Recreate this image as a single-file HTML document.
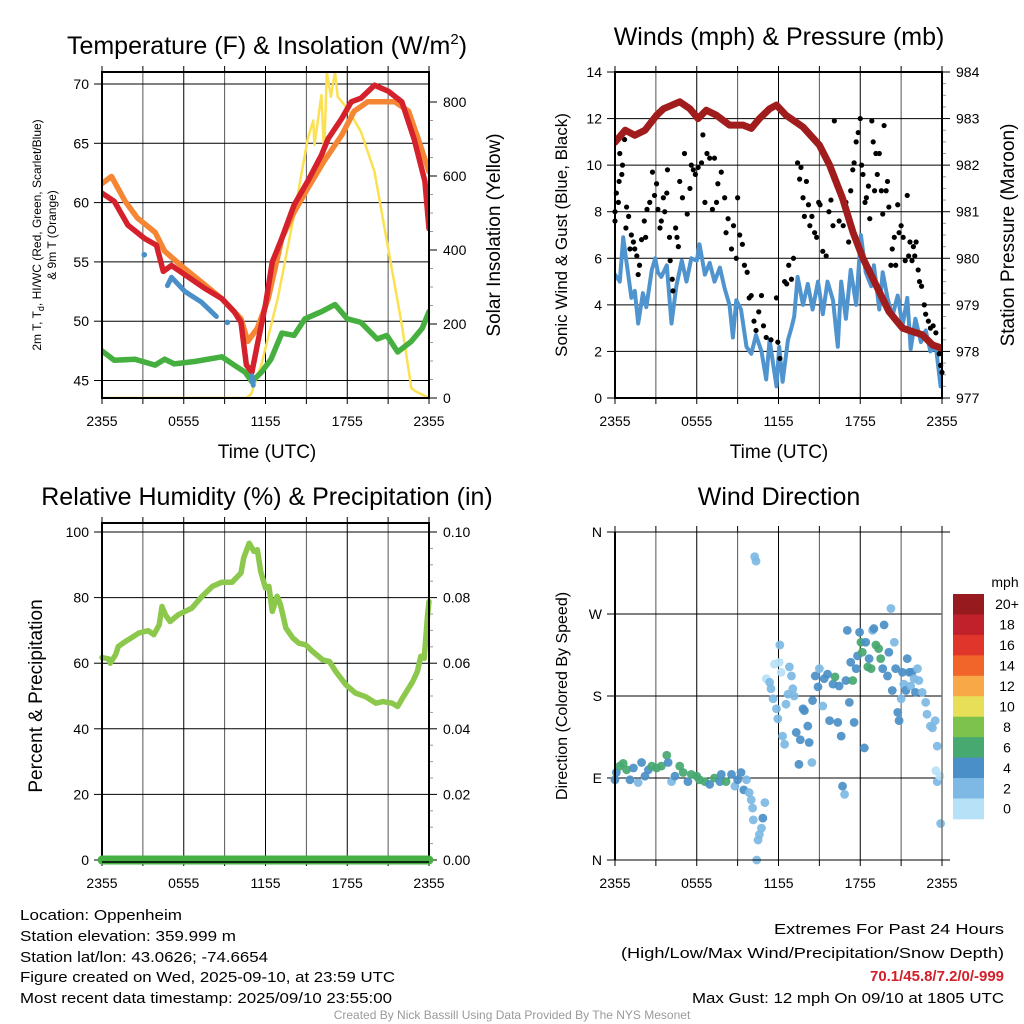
<!DOCTYPE html>
<html><head><meta charset="utf-8">
<style>
html,body{margin:0;padding:0;background:#fff;}
svg{display:block;font-family:"Liberation Sans",Arial,sans-serif;}
</style></head>
<body>
<svg id="chart" width="1024" height="1024" viewBox="0 0 1024 1024" xmlns="http://www.w3.org/2000/svg">
<defs>
<clipPath id="c1"><rect x="102" y="72" width="327" height="326"/></clipPath>
<clipPath id="c2"><rect x="615" y="72" width="327" height="326"/></clipPath>
<clipPath id="c4"><rect x="610" y="528" width="340" height="337"/></clipPath>
</defs>
<g id="p1"></g>
<g id="p2"></g>
<g id="p3"></g>
<g id="p4"></g>

<text x="267" y="54" font-size="25" text-anchor="middle">Temperature (F) &amp; Insolation (W/m<tspan dy="-10" font-size="15">2</tspan><tspan dy="10">)</tspan></text>
<text x="779" y="45" font-size="25" text-anchor="middle">Winds (mph) &amp; Pressure (mb)</text>
<text x="267" y="505" font-size="25" text-anchor="middle">Relative Humidity (%) &amp; Precipitation (in)</text>
<text x="779" y="505" font-size="25" text-anchor="middle">Wind Direction</text>

<text x="267" y="458" font-size="19" text-anchor="middle">Time (UTC)</text>
<text x="779" y="458" font-size="19" text-anchor="middle">Time (UTC)</text>

<text transform="translate(41,235) rotate(-90)" font-size="12" text-anchor="middle">2m T, T<tspan font-size="9" dy="3">d</tspan><tspan dy="-3">, HI/WC (Red, Green, Scarlet/Blue)</tspan></text>
<text transform="translate(56,235) rotate(-90)" font-size="12" text-anchor="middle">&amp; 9m T (Orange)</text>
<text transform="translate(500,235) rotate(-90)" font-size="19" text-anchor="middle">Solar Insolation (Yellow)</text>
<text transform="translate(567,235) rotate(-90)" font-size="17" text-anchor="middle">Sonic Wind &amp; Gust (Blue, Black)</text>
<text transform="translate(1014,235) rotate(-90)" font-size="19" text-anchor="middle">Station Pressure (Maroon)</text>
<text transform="translate(42,696) rotate(-90)" font-size="19" text-anchor="middle">Percent &amp; Precipitation</text>
<text transform="translate(567,696) rotate(-90)" font-size="16" text-anchor="middle">Direction (Colored By Speed)</text>

<g id="legend"></g>
<text x="1005" y="587" font-size="14" text-anchor="middle">mph</text>

<g font-size="15">
<text x="20" y="920" textLength="162" lengthAdjust="spacingAndGlyphs">Location: Oppenheim</text>
<text x="20" y="941" textLength="216" lengthAdjust="spacingAndGlyphs">Station elevation: 359.999 m</text>
<text x="20" y="962" textLength="248" lengthAdjust="spacingAndGlyphs">Station lat/lon: 43.0626; -74.6654</text>
<text x="20" y="982" textLength="375" lengthAdjust="spacingAndGlyphs">Figure created on Wed, 2025-09-10, at 23:59 UTC</text>
<text x="20" y="1003" textLength="372" lengthAdjust="spacingAndGlyphs">Most recent data timestamp: 2025/09/10 23:55:00</text>
</g>
<g font-size="15" text-anchor="end">
<text x="1004" y="934" textLength="230" lengthAdjust="spacingAndGlyphs">Extremes For Past 24 Hours</text>
<text x="1004" y="958" textLength="383" lengthAdjust="spacingAndGlyphs">(High/Low/Max Wind/Precipitation/Snow Depth)</text>
<text x="1004" y="981" fill="#d2202a" font-weight="bold" textLength="134" lengthAdjust="spacingAndGlyphs">70.1/45.8/7.2/0/-999</text>
<text x="1004" y="1003" textLength="312" lengthAdjust="spacingAndGlyphs">Max Gust: 12 mph On 09/10 at 1805 UTC</text>
</g>
<text x="512" y="1019" font-size="12" fill="#9a9a9a" text-anchor="middle">Created By Nick Bassill Using Data Provided By The NYS Mesonet</text>
</svg>
<script>
// ---------- data ----------
const xTickLabels = ["2355","0555","1155","1755","2355"];
const tempTicks = [45,50,55,60,65,70];
const insolTicks = [0,200,400,600,800];
const windTicks = [0,2,4,6,8,10,12,14];
const presTicks = [977,978,979,980,981,982,983,984];
const rhTicks = [0,20,40,60,80,100];
const precipTicks = ["0.00","0.02","0.04","0.06","0.08","0.10"];
const dirTicks = ["N","E","S","W","N"];
const speedLabels = ["0","2","4","6","8","10","12","14","16","18","20+"];
const speedColors = ["#b6e1f7","#7db9e4","#4a8fc7","#47a870","#7cc24d","#e8df58","#f8a846","#f1652b","#e0352b","#c0212a","#971a1e"];

const redH = [0,0.9,1.9,3.1,4,4.5,5.1,6.1,7.5,8.8,9.7,10.2,10.6,11,11.4,12,12.5,13.2,14.1,15.1,16.1,16.6,17.6,18.3,19,20,21,22,22.9,23.7,24];
const redT = [60.8,60.1,58.1,57.0,56.4,54.2,54.7,53.9,52.8,51.9,50.8,49.9,46.3,45.7,48.0,51.4,55.0,57.0,59.8,61.8,64.0,65.4,67.1,68.5,68.8,69.9,69.4,68.5,65.4,61.8,57.8];
const orH = [0,0.7,1.7,2.6,3.9,4.6,5.8,7.3,8.8,10.2,10.7,11.4,12.2,13.2,14.1,15.1,16.3,17.6,18.5,19.5,20.5,21.5,22.5,23.2,24];
const orT = [61.6,62.2,60.1,58.7,57.5,55.9,54.7,53.3,51.9,50.2,48.3,49.4,51.9,57.0,59.2,61.2,63.5,65.7,67.7,68.5,68.5,68.5,67.7,65.4,62.6];
const hiH = [3.1,null,4.8,5.1,6.1,7.3,8.4,null,9.2,null,11,11.1];
const hiT = [55.6,null,53.0,53.7,52.5,51.6,50.4,null,49.9,null,45.4,44.6];
const dpH = [0,0.9,2.4,3.9,4.6,5.3,6.8,8.8,9.7,10.5,11,11.7,12.4,13.2,14.1,14.9,16.1,17.1,18,19,20.2,20.9,21.7,22.7,23.5,24];
const dpT = [47.5,46.7,46.8,46.3,46.8,46.4,46.6,47.0,46.3,45.7,44.9,45.7,46.8,49.0,48.8,50.2,50.8,51.4,50.2,49.9,48.5,48.8,47.4,48.3,49.4,50.8];
const solH = [0,10.6,10.95,11.7,12.9,14.1,15.1,15.5,15.6,16.1,16.3,16.5,16.8,17.1,17.3,18,19,20,21,22,22.7,23,24];
const solW = [0,0,11,90,270,495,700,750,684,819,657,882,814,882,814,783,720,612,405,198,27,18,0];

const windH = [0,0.35,0.6,0.85,1.2,1.45,1.7,2.05,2.3,2.7,2.95,3.15,3.4,3.8,4.15,4.5,4.9,5.25,5.6,6.0,6.2,6.6,6.95,7.3,7.7,8.05,8.4,8.65,8.9,9.25,9.65,10.0,10.35,10.75,11.1,11.35,11.6,11.85,12.05,12.3,12.7,12.95,13.15,13.4,13.8,14.15,14.5,14.9,15.25,15.6,16.0,16.35,16.6,16.95,17.3,17.7,18.05,18.4,18.8,19.0,19.4,19.65,20.0,20.35,20.75,21.1,21.45,21.7,22.05,22.45,22.8,23.15,23.55,23.9];
const windV = [5.3,5.0,6.9,5.8,4.3,4.6,3.2,4.5,3.9,5.5,6.0,5.4,5.2,5.7,3.2,4.8,5.9,5.0,6.0,5.9,6.6,5.3,5.8,5.0,5.6,4.7,4.0,2.6,4.2,3.8,2.2,1.9,2.7,2.0,0.8,2.5,1.5,0.5,2.2,0.7,2.5,3.0,3.5,5.2,4.0,4.9,3.8,5.0,3.6,5.0,4.2,2.2,5.0,3.4,5.5,4.0,7.0,5.4,4.8,5.7,3.8,5.4,4.3,3.5,4.4,3.1,4.3,2.1,3.4,2.4,2.9,2.0,2.2,0.5];
const gustH = [0,0,0.1,0.25,0.3,0.35,0.5,0.55,0.7,0.8,0.85,1.0,1.1,1.2,1.35,1.45,1.6,1.7,1.8,1.95,2.15,2.25,2.35,2.55,2.75,2.9,3.05,3.15,3.3,3.4,3.55,3.65,3.8,3.85,4.0,4.05,4.2,4.25,4.45,4.55,4.65,4.75,4.95,5.1,5.3,5.5,5.6,5.75,5.9,6.1,6.35,6.45,6.6,6.75,6.95,7.15,7.3,7.45,7.55,7.8,8.05,8.15,8.3,8.55,8.7,8.9,9.0,9.15,9.35,9.5,9.7,9.85,10.0,10.2,10.35,10.55,10.75,10.9,11.1,11.45,11.85,11.95,12.1,12.45,12.6,12.75,12.95,13.1,13.4,13.55,13.65,13.8,13.9,14.05,14.2,14.3,14.45,14.65,14.8,14.95,15.05,15.25,15.5,15.7,15.85,16.0,16.1,16.25,16.45,16.6,16.75,16.95,17.15,17.3,17.45,17.55,17.7,17.85,18.0,18.1,18.2,18.35,18.45,18.6,18.7,18.85,18.95,19.05,19.15,19.25,19.4,19.55,19.65,19.75,19.9,20.0,20.1,20.25,20.35,20.5,20.6,20.75,20.85,21.0,21.15,21.3,21.45,21.55,21.65,21.8,21.9,22.0,22.1,22.25,22.35,22.5,22.7,22.8,23.0,23.15,23.35,23.55,23.8,23.9,24.0];
const gustV = [8.0,7.6,8.8,8.4,9.3,10.5,9.6,10.0,11.1,7.3,8.2,7.8,6.4,7.0,6.7,6.4,6.1,5.3,5.7,6.8,7.6,6.9,8.1,8.4,9.7,8.7,9.2,8.1,7.3,7.6,8.6,8.0,8.8,9.8,6.9,5.9,5.1,4.6,7.3,6.9,6.5,9.3,8.6,10.5,7.9,9.0,10.0,9.8,9.6,9.9,10.1,11.3,8.4,10.5,10.3,8.1,10.3,8.4,9.2,9.7,8.6,7.1,7.7,6.4,7.4,6.0,8.6,7.0,6.6,5.7,5.4,4.3,4.4,3.3,2.9,3.7,4.4,3.1,2.6,2.5,4.3,2.4,1.7,5.0,4.9,5.7,5.1,6.0,10.1,9.4,9.9,8.6,7.8,9.3,8.3,7.4,7.8,7.1,6.9,8.4,8.3,6.3,6.1,8.0,8.5,7.4,11.9,9.3,7.6,8.7,7.4,8.4,6.7,8.9,9.8,10.1,11.0,11.4,12.0,10.0,9.6,8.4,8.6,9.1,7.7,11.9,11.0,8.9,10.5,9.6,10.5,8.9,7.9,11.7,8.9,9.3,8.2,5.7,6.4,6.9,5.7,8.3,7.1,7.4,6.9,5.9,8.7,6.1,6.7,5.9,6.5,6.1,6.7,5.5,5.0,4.8,4.0,3.6,3.3,3.0,3.1,2.8,1.9,1.4,1.1];
const presH = [0,0.75,1.45,2.2,3.05,3.55,4.75,5.5,6.1,6.7,7.45,8.4,9.4,10.0,10.6,11.35,11.85,12.55,13.8,15.0,15.75,16.7,17.45,18.2,19.15,20.1,21.1,21.8,22.55,23.3,24];
const presV = [982.49,982.75,982.64,982.75,983.07,983.21,983.36,983.21,983.0,983.18,983.07,982.86,982.86,982.79,983.0,983.21,983.29,983.07,982.82,982.43,982.0,981.29,980.57,980.0,979.43,978.86,978.5,978.43,978.36,978.14,978.07];

const rhH = [0,0.5,0.6,1.0,1.2,1.7,2.1,2.7,3.4,3.8,4.2,4.4,4.65,5.0,5.6,6.6,7.35,8.1,8.8,9.55,10.2,10.4,10.8,11.15,11.4,11.65,12.0,12.25,12.5,12.85,13.1,13.5,14.0,14.45,14.95,15.45,16.2,16.7,17.15,17.9,18.6,19.35,20.1,20.6,21.3,21.7,22.05,22.8,23.15,23.4,23.65,23.9,24];
const rhV = [61.7,61.3,60.0,62.6,65.1,66.6,67.6,69.2,69.9,68.7,71.7,77.3,74.8,72.7,74.8,76.8,80.4,83.4,84.7,84.7,87.5,92.1,96.6,94.1,94.6,88.0,82.9,83.4,75.8,80.4,77.8,70.7,67.7,66.1,65.6,63.6,61.0,60.5,57.5,53.4,50.9,49.8,47.8,48.3,47.8,46.8,49.3,54.4,57.5,62.1,61.5,74.8,78.8];
const precipH = [0,24];
const precipV = [0,0];

const dirH = [0,0.1,0.35,0.6,0.85,1.1,1.35,1.7,1.95,2.2,2.45,2.7,3.05,3.4,3.8,3.9,4.15,4.4,4.75,5.0,5.35,5.6,6.0,6.2,6.6,6.95,7.3,7.7,7.8,8.15,8.55,8.8,9.0,9.25,9.45,9.65,9.85,10.0,10.1,10.15,10.5,10.6,10.75,10.85,11.0,10.4,10.25,10.35,11.1,11.35,11.45,11.6,11.7,11.85,11.95,12.05,12.1,12.2,12.3,12.45,12.55,12.7,12.8,12.95,13.05,13.15,13.3,13.5,13.6,13.8,13.9,14.15,14.25,14.45,14.5,14.7,14.9,15.0,15.25,15.35,15.6,15.75,16.0,16.15,16.35,16.45,16.6,16.7,16.85,16.95,17.05,17.2,17.3,17.45,17.55,17.7,17.8,17.95,18.05,18.15,18.3,18.4,18.55,18.65,18.8,18.9,19.0,19.15,19.35,19.5,19.65,19.75,20.0,20.1,20.25,20.35,20.5,20.6,20.75,20.85,21.0,21.1,21.2,21.35,21.45,21.6,21.7,21.8,21.95,22.05,22.2,22.3,22.55,22.8,22.9,23.15,23.3,23.5,23.55,23.65,23.65,23.85,23.9];
const dirV = [88,96,103,106,99,88,101,85,107,92,99,103,101,103,115,107,86,92,103,96,86,94,92,88,86,83,90,86,94,86,94,81,88,96,77,88,74,66,57,44,22,28,35,46,63,0,333,328,199,195,188,177,215,166,155,217,236,206,136,127,171,182,212,202,188,180,140,105,132,166,164,147,129,107,175,202,190,210,169,199,204,153,193,201,151,191,136,81,72,197,252,173,217,197,151,210,224,250,239,228,123,239,212,221,210,252,254,236,232,221,210,258,202,228,276,186,239,210,162,153,177,206,193,186,221,206,191,206,199,184,210,197,184,173,160,147,145,153,98,125,86,92,40];
const dirS = [5,5,7,7,7,5,5,3,5,5,5,7,7,7,7,5,3,5,7,7,5,7,7,7,7,5,7,5,5,7,5,3,5,5,5,3,3,3,3,3,3,3,3,5,3,3,3,3,1,3,3,3,1,3,3,1,3,1,3,3,3,3,3,3,3,3,5,5,5,5,5,5,5,3,5,5,5,3,3,5,5,5,5,7,5,5,5,5,3,5,5,5,5,7,5,5,5,5,7,7,5,5,7,5,7,3,5,7,7,7,5,5,5,5,3,5,3,5,5,5,3,5,3,5,5,5,3,5,3,5,3,3,3,3,3,3,3,3,1,3,3,1,3];

// ---------- helpers ----------
const NS = "http://www.w3.org/2000/svg";
function mk(parent, tag, attrs){ const e=document.createElementNS(NS,tag); for(const k in attrs) e.setAttribute(k,attrs[k]); parent.appendChild(e); return e; }
function lin(d0,d1,r0,r1){ return v => r0 + (v-d0)*(r1-r0)/(d1-d0); }
function pathFrom(xs, ys, fx, fy){
  let d="", pen=false;
  for(let i=0;i<xs.length;i++){
    if(xs[i]===null||ys[i]===null){pen=false;continue;}
    d += (pen?"L":"M")+fx(xs[i]).toFixed(1)+" "+fy(ys[i]).toFixed(1)+" ";
    pen=true;
  }
  return d;
}

function frame(g, L, R, T, B, yTicksLeft, fyL, leftLabels, rightTicks, fyR, rightLabels, name){
  const fx = lin(0,24,L,R);
  for(let h=3; h<24; h+=3){
    const l = mk(g,"line",{x1:fx(h),x2:fx(h),y1:T,y2:B,stroke:(h%6===0?"#000":"#555"),"stroke-width":1});
    
    
  }
  yTicksLeft.forEach((v,i)=>{
    const y = fyL(v);
    if(y>T+1 && y<B-1){
      const l = mk(g,"line",{x1:L,x2:R,y1:y,y2:y,stroke:"#000","stroke-width":1});
      
      
    }
    const t = mk(g,"line",{x1:L-8,x2:L,y1:y,y2:y,stroke:"#000","stroke-width":1});
    
    
    const tx = mk(g,"text",{x:L-13,y:y+5,"font-size":14,"text-anchor":"end"});
    tx.textContent = leftLabels[i];
    
    
  });
  rightTicks.forEach((v,i)=>{
    const y = fyR(v);
    const t = mk(g,"line",{x1:R,x2:R+8,y1:y,y2:y,stroke:"#000","stroke-width":1});
    
    
    const tx = mk(g,"text",{x:R+14,y:y+5,"font-size":14,"text-anchor":"start"});
    tx.textContent = rightLabels[i];
    
    
  });
  for(let i=0;i<rightTicks.length-1;i++){
    const y0=fyR(rightTicks[i]), y1=fyR(rightTicks[i+1]);
    for(let k=1;k<4;k++){
      const y=y0+(y1-y0)*k/4;
      const t=mk(g,"line",{x1:R,x2:R+4,y1:y,y2:y,stroke:"#999","stroke-width":1});
      
      
    }
  }
  for(let h=0; h<=24; h+=3){
    const b = mk(g,"line",{x1:fx(h),x2:fx(h),y1:B,y2:B+6,stroke:"#000","stroke-width":1});
    
    
    const t = mk(g,"line",{x1:fx(h),x2:fx(h),y1:T-6,y2:T,stroke:"#000","stroke-width":1});
    
    
  }
  xTickLabels.forEach((lab,i)=>{
    const tx = mk(g,"text",{x:fx(i*6),y:B+28,"font-size":14,"text-anchor":"middle"});
    tx.textContent = lab;
    
    
  });
  return fx;
}
function border(g,L,R,T,B,name){
  const r = mk(g,"rect",{x:L,y:T,width:R-L,height:B-T,fill:"none",stroke:"#000","stroke-width":2});
  
  
}
function line(g,xs,ys,fx,fy,color,w,name,clip){
  const p = mk(g,"path",{d:pathFrom(xs,ys,fx,fy),fill:"none",stroke:color,"stroke-width":w,"stroke-linejoin":"round","stroke-linecap":"round"});
  if(clip) p.setAttribute("clip-path","url(#"+clip+")");
  
  
  return p;
}

// ---------- panel 1 ----------
(function(){
  const g=document.getElementById("p1");
  const L=102,R=429,T=72,B=398;
  const fyT = lin(45,70,380.5,84);
  const fyW = lin(0,800,398,102);
  const fx = frame(g,L,R,T,B,tempTicks,fyT,tempTicks.map(String),insolTicks,fyW,insolTicks.map(String),"temperature");
  line(g,solH,solW,fx,fyW,"#fbe151",2.5,"insolation-line","c1");
  line(g,dpH,dpT,fx,fyT,"#45b03f",5.5,"dewpoint-line","c1");
  line(g,orH,orT,fx,fyT,"#f58634",5.5,"temp-9m-line","c1");
  line(g,redH,redT,fx,fyT,"#d5212b",5.5,"temp-2m-line","c1");
  line(g,hiH,hiT,fx,fyT,"#4a8fc8",5,"heat-index-line","c1");
  [[3.1,55.6],[9.2,49.9]].forEach(p=>{
    const c=mk(g,"circle",{cx:fx(p[0]),cy:fyT(p[1]),r:2.8,fill:"#4a8fc8"});
    
    
  });
  border(g,L,R,T,B,"temperature");
})();

// ---------- panel 2 ----------
(function(){
  const g=document.getElementById("p2");
  const L=615,R=942,T=72,B=398;
  const fyV = lin(0,14,398,72);
  const fyP = lin(977,984,398,72);
  const fx = frame(g,L,R,T,B,windTicks,fyV,windTicks.map(String),presTicks,fyP,presTicks.map(String),"wind");
  line(g,windH,windV,fx,fyV,"#4f94cf",4,"sonic-wind-line","c2");
  for(let i=0;i<gustH.length;i++){
    const c=mk(g,"circle",{cx:fx(gustH[i]),cy:fyV(gustV[i]),r:2.6,fill:"#000"});
    
    
  }
  line(g,presH,presV,fx,fyP,"#a11c1c",7,"pressure-line","c2");
  border(g,L,R,T,B,"wind");
})();

// ---------- panel 3 ----------
(function(){
  const g=document.getElementById("p3");
  const L=102,R=429,T=523,B=860;
  const fyR = lin(0,100,860,532);
  const fyP = lin(0,0.1,860,532);
  const fx = frame(g,L,R,T,B,rhTicks,fyR,rhTicks.map(String),[0,0.02,0.04,0.06,0.08,0.1],fyP,precipTicks,"humidity");
  line(g,rhH,rhV,fx,fyR,"#8cc84b",5.5,"humidity-line",null);
  border(g,L,R,T,B,"humidity");
  line(g,precipH,precipV,fx,fyP,"#46b045",9,"precipitation-line",null);
  const ax=mk(g,"line",{x1:L,x2:R,y1:B+2,y2:B+2,stroke:"#000","stroke-width":1.5});
  
  
})();

// ---------- panel 4 ----------
(function(){
  const g=document.getElementById("p4");
  const L=615,R=942,T=532,B=860;
  const fyD = lin(0,360,860,532);
  const fx = frame(g,L,R,T,B,[0,90,180,270,360],fyD,dirTicks,[],fyD,[],"direction");
  for(let i=0;i<dirH.length;i++){
    const bin = Math.min(10, Math.floor(dirS[i]/2));
    const c=mk(g,"circle",{cx:fx(dirH[i]),cy:fyD(dirV[i]),r:4.4,fill:speedColors[bin],"fill-opacity":0.92});
    c.setAttribute("clip-path","url(#c4)");
    
    
  }
  const l1=mk(g,"line",{x1:L,x2:L,y1:T,y2:B,stroke:"#000","stroke-width":2});
  
  
  const l2=mk(g,"line",{x1:R,x2:R,y1:T,y2:B,stroke:"#777","stroke-width":1.5});
  
  
  [T,B].forEach(y=>{
    const h=mk(g,"line",{x1:L-8,x2:R+8,y1:y,y2:y,stroke:"#000","stroke-width":1});
    
    
  });
})();

// ---------- colorbar ----------
(function(){
  const g=document.getElementById("legend");
  const x=953,w=31,top=594,bh=20.45;
  for(let i=0;i<speedColors.length;i++){
    const k = speedColors.length-1-i;
    const r=mk(g,"rect",{x:x,y:top+i*bh,width:w,height:bh+0.4,fill:speedColors[k]});
    
    
    const t=mk(g,"text",{x:1007,y:top+i*bh+bh/2+5,"font-size":14,"text-anchor":"middle"});
    t.textContent=speedLabels[k];
    
    
  }
})();
</script>
</body></html>
